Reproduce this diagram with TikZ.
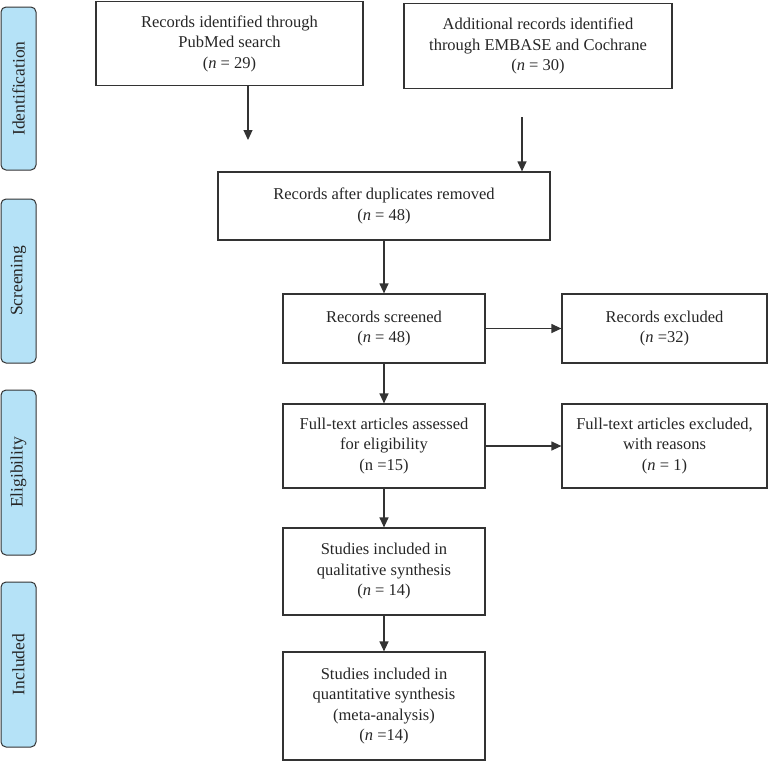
\documentclass[tikz,border=0pt]{standalone}
\usepackage{fontspec}
\setmainfont{Liberation Serif}
\usetikzlibrary{arrows.meta}
\definecolor{linec}{HTML}{333333}
\definecolor{phasefill}{HTML}{B5E2F7}
\newcommand{\nn}{\textit{n}}
\tikzset{
  box/.style={draw=linec, line width=1.2pt, align=center, inner sep=2pt,
    font=\fontsize{16.5}{20.5}\selectfont, text=black!85},
  phase/.style={draw=linec, line width=1pt, fill=phasefill, rounded corners=5pt,
    minimum width=35pt, font=\fontsize{17.5}{18}\selectfont, text=black!85},
  arr/.style={draw=linec, line width=1.2pt, -{Triangle[length=10pt,width=9pt]}},
}
\begin{document}
\begin{tikzpicture}[x=1pt,y=-1pt]
\useasboundingbox (0,0) rectangle (769,761);
% phase labels
\node[phase, minimum height=163pt] (p1) at (18.5,88.5) {\rotatebox{90}{Identification}};
\node[phase, minimum height=164pt] (p2) at (18.5,281) {\rotatebox{90}{Screening}};
\node[phase, minimum height=165pt] (p3) at (18.5,472.5) {\rotatebox{90}{Eligibility}};
\node[phase, minimum height=165pt] (p4) at (18.5,664.5) {\rotatebox{90}{Included}};
% boxes
\node[box, minimum width=267pt, minimum height=84pt] (b1) at (229.5,43.5)
  {Records identified through\\PubMed search\\(\nn{} = 29)};
\node[box, minimum width=268pt, minimum height=85pt] (b2) at (538,46)
  {Additional records identified\\through EMBASE and Cochrane\\(\nn{} = 30)};
\node[box, minimum width=332pt, minimum height=68pt] (b3) at (384,206)
  {Records after duplicates removed\\(\nn{} = 48)};
\node[box, minimum width=202pt, minimum height=69pt] (b4) at (384,328.5)
  {Records screened\\(\nn{} = 48)};
\node[box, minimum width=205pt, minimum height=69pt] (b5) at (664.5,328.5)
  {Records excluded\\(\nn{} =32)};
\node[box, minimum width=202pt, minimum height=84pt] (b6) at (384,446)
  {Full-text articles assessed\\for eligibility\\(n =15)};
\node[box, minimum width=205pt, minimum height=84pt] (b7) at (664.5,446)
  {Full-text articles excluded,\\with reasons\\(\nn{} = 1)};
\node[box, minimum width=202pt, minimum height=87pt] (b8) at (384,571.5)
  {Studies included in\\qualitative synthesis\\(\nn{} = 14)};
\node[box, minimum width=202pt, minimum height=108pt] (b9) at (384,706)
  {Studies included in\\quantitative synthesis\\(meta-analysis)\\(\nn{} =14)};
% free ends
\coordinate (e1) at (248,140);
\coordinate (s2) at (522,117);
% connectors
\draw[arr] (b1.south -| e1) -- (e1);
\draw[arr] (s2) -- (s2 |- b3.north);
\draw[arr] (b3.south -| b4.north) -- (b4.north);
\draw[arr] (b4) -- (b5);
\draw[arr] (b4) -- (b6);
\draw[arr] (b6) -- (b7);
\draw[arr] (b6) -- (b8);
\draw[arr] (b8) -- (b9);
\end{tikzpicture}
\end{document}
